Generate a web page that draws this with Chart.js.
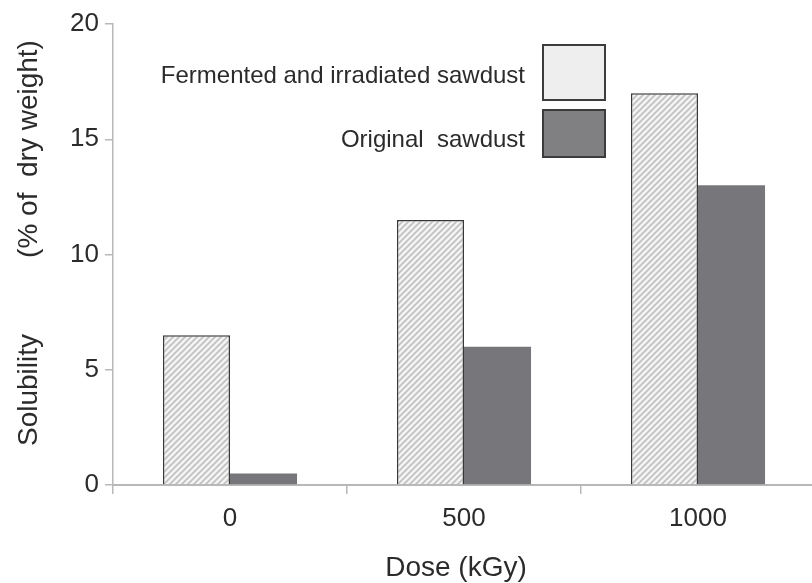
<!DOCTYPE html>
<html>
<head>
<meta charset="utf-8">
<script src="https://cdn.jsdelivr.net/npm/chart.js@4.4.0/dist/chart.umd.min.js"></script>
<style>
  html, body { margin: 0; padding: 0; background: #fff; overflow: hidden; }
  #wrap { width: 820px; height: 583px; }
</style>
</head>
<body>
<div id="wrap"><canvas id="c" width="820" height="583"></canvas></div>
<script>
// Dose levels (kGy) and solubility (% of dry weight)
const doses = ['0', '500', '1000'];
const fermented = [6.5, 11.5, 17];
const original = [0.5, 6, 13];
const yTicks = [0, 5, 10, 15, 20];
const seriesNames = ['Fermented and irradiated sawdust', 'Original  sawdust'];

const FONT = '"Liberation Sans", Arial, sans-serif';
const TXT = '#2b2b2b';

// Diagonal hatch fill for the fermented series
function hatch() {
  const p = 6;
  const c = document.createElement('canvas');
  c.width = p; c.height = p;
  const g = c.getContext('2d');
  g.fillStyle = '#f3f3f3';
  g.fillRect(0, 0, p, p);
  g.strokeStyle = '#c0c0c0';
  g.lineWidth = 1.6;
  g.beginPath();
  g.moveTo(-1, p + 1); g.lineTo(p + 1, -1);
  g.moveTo(-1, 1); g.lineTo(1, -1);
  g.moveTo(p - 1, p + 1); g.lineTo(p + 1, p - 1);
  g.stroke();
  return g.createPattern(c, 'repeat');
}
const ctx0 = document.getElementById('c').getContext('2d');
const hatchFill = hatch();
const darkFill = '#77777b';

// Titles and boxed legend drawn on top of the chart
const decor = {
  id: 'decor',
  afterDraw(chart) {
    const ctx = chart.ctx;
    const a = chart.chartArea;
    ctx.save();
    ctx.fillStyle = TXT;
    // y title, two parts with a wide gap
    ctx.font = '28px ' + FONT;
    ctx.textAlign = 'center';
    ctx.textBaseline = 'middle';
    ctx.save();
    ctx.translate(29, 0);
    ctx.rotate(-Math.PI / 2);
    ctx.fillText('Solubility', -390, 0);
    ctx.fillText('(% of  dry weight)', -149, 0);
    ctx.restore();
    // x title
    ctx.fillText('Dose (kGy)', 456, 568);
    // legend
    ctx.font = '24px ' + FONT;
    ctx.textAlign = 'right';
    ctx.fillText(seriesNames[0], 525, 76);
    ctx.fillText(seriesNames[1], 525, 140);
    ctx.fillStyle = '#eeeeee';
    ctx.fillRect(543, 45, 62, 55);
    ctx.fillStyle = '#808082';
    ctx.fillRect(543, 110, 62, 47);
    ctx.strokeStyle = '#3c3c3c';
    ctx.lineWidth = 2;
    ctx.strokeRect(543, 45, 62, 55);
    ctx.strokeRect(543, 110, 62, 47);
    ctx.restore();
  }
};

new Chart(ctx0, {
  type: 'bar',
  data: {
    labels: doses,
    datasets: [
      {
        label: seriesNames[0],
        data: fermented,
        backgroundColor: hatchFill,
        borderColor: '#383838',
        borderWidth: 1.5,
        borderSkipped: 'bottom'
      },
      {
        label: seriesNames[1],
        data: original,
        backgroundColor: darkFill,
        borderWidth: 0
      }
    ]
  },
  options: {
    responsive: false,
    animation: false,
    events: [],
    layout: { padding: { top: 24, right: 5, left: 0, bottom: 0 } },
    datasets: { bar: { categoryPercentage: 0.573, barPercentage: 1.0 } },
    plugins: { legend: { display: false }, tooltip: { enabled: false } },
    scales: {
      x: {
        offset: true,
        grid: {
          offset: true,
          drawOnChartArea: false,
          drawTicks: true,
          tickLength: 9,
          color: '#b8b8b8',
          lineWidth: 1.5
        },
        border: { color: '#b8b8b8', width: 2 },
        ticks: { font: { family: FONT, size: 26 }, color: TXT, padding: 9 },
        afterFit(s) { s.height = 98; }
      },
      y: {
        min: 0,
        max: 20,
        afterBuildTicks(s) { s.ticks = yTicks.map(v => ({ value: v })); },
        grid: {
          drawOnChartArea: false,
          drawTicks: true,
          tickLength: 8,
          color: '#b8b8b8',
          lineWidth: 1.5
        },
        border: { color: '#b8b8b8', width: 1.5 },
        ticks: { font: { family: FONT, size: 26 }, color: TXT, padding: 6 },
        afterFit(s) { s.width = 113; }
      }
    }
  },
  plugins: [decor]
});
</script>
</body>
</html>
